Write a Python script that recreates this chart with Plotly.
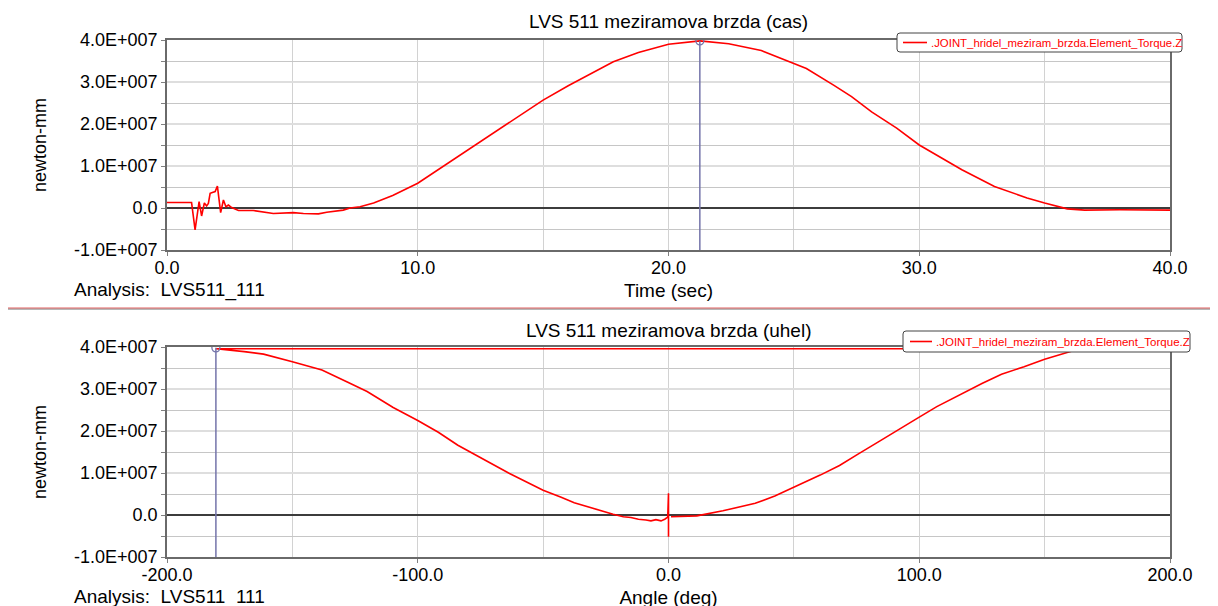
import plotly.graph_objects as go

# ---------------- data (torque values in units of 1E+007 newton-mm) ----------------
time_sec = [0, 0.98, 1.12, 1.28, 1.38, 1.49, 1.58, 1.65, 1.72, 1.82, 1.92, 2.01, 2.14, 2.25,
            2.35, 2.45, 2.58, 2.85, 3.44, 4.24, 5.04, 5.44, 6.04, 6.37, 7.03, 7.3, 7.7, 8.24,
            9.0, 10.0, 10.8, 11.6, 12.4, 13.4, 14.2, 15.0, 16.0, 16.8, 17.8, 18.8, 20.0,
            21.25, 22.4, 23.7, 25.0, 25.5, 26.6, 27.3, 28.1, 29.1, 30.0, 30.7, 31.7, 33.0,
            34.3, 35.0, 35.9, 36.6, 38.0, 40.0]
torque_time_e7 = [0.13, 0.13, -0.52, 0.15, -0.19, 0.12, 0.05, 0.11, 0.35, 0.37, 0.39, 0.52,
                  -0.11, 0.19, 0.03, 0.07, 0.01, -0.06, -0.06, -0.13, -0.11, -0.13, -0.14,
                  -0.10, -0.05, 0.0, 0.03, 0.12, 0.30, 0.59, 0.91, 1.22, 1.54, 1.94, 2.25,
                  2.57, 2.91, 3.16, 3.48, 3.70, 3.90, 3.98, 3.91, 3.75, 3.44, 3.32, 2.92,
                  2.65, 2.29, 1.90, 1.50, 1.26, 0.91, 0.51, 0.24, 0.12, -0.02, -0.05, -0.04,
                  -0.05]

angle_deg = [0.0, 0.0, 0.0, 0.0, -0.3, -1.5, -3.0, -5.0, -7.0, -9.0, -12.0, -15.0, -18.0,
             -22.1, -29.9, -37.6, -42.8, -50.0, -63.4, -78.9, -84.0, -91.8, -100.0, -109.8,
             -120.2, -127.9, -138.2, -150.0, -161.5, -169.2, -180.5, 180.0, 170.0, 161.3,
             150.0, 141.8, 132.8, 125.0, 118.6, 107.0, 100.0, 91.4, 83.7, 75.9, 68.2, 60.5,
             50.0, 42.4, 34.6, 21.7, 11.3, 4.0, 1.0]
torque_angle_e7 = [0.13, -0.52, 0.52, 0.05, -0.05, -0.10, -0.14, -0.11, -0.14, -0.12, -0.10,
                   -0.06, -0.04, 0.02, 0.16, 0.29, 0.42, 0.59, 0.99, 1.50, 1.66, 1.97, 2.25,
                   2.56, 2.94, 3.16, 3.45, 3.65, 3.83, 3.89, 3.96, 3.96, 3.95, 3.91, 3.71,
                   3.53, 3.35, 3.13, 2.94, 2.58, 2.33, 2.01, 1.74, 1.46, 1.18, 0.95, 0.67,
                   0.45, 0.28, 0.10, -0.02, -0.04, -0.04]

cursor_time = 21.25
cursor_angle = -180.5
cursor_torque_e7 = 3.98

y_tickvals_e7 = [-1, 0, 1, 2, 3, 4]
y_ticktext = ["-1.0E+007", "0.0", "1.0E+007", "2.0E+007", "3.0E+007", "4.0E+007"]
y_minor_e7 = [-0.5, 0.5, 1.5, 2.5, 3.5]
time_tickvals = [0, 10, 20, 30, 40]
time_ticktext = ["0.0", "10.0", "20.0", "30.0", "40.0"]
time_minor = [5, 15, 25, 35]
angle_tickvals = [-200, -100, 0, 100, 200]
angle_ticktext = ["-200.0", "-100.0", "0.0", "100.0", "200.0"]
angle_minor = [-150, -50, 50, 150]

series_name = ".JOINT_hridel_meziram_brzda.Element_Torque.Z"
title_top = "LVS 511 meziramova brzda (cas)"
title_bottom = "LVS 511 meziramova brzda (uhel)"
analysis_text = "Analysis:\u00a0 LVS511_111"

E7 = 1e7
torque_time = [v * E7 for v in torque_time_e7]
torque_angle = [v * E7 for v in torque_angle_e7]
y_tickvals = [v * E7 for v in y_tickvals_e7]
y_minor = [v * E7 for v in y_minor_e7]
cursor_torque = cursor_torque_e7 * E7

# ---------------- layout helpers ----------------
W, H = 1218, 606
OFF = 8  # the page body adds an 8 px margin around the figure
FONT = "Liberation Sans, Arial, sans-serif"


def fx(p):
    return (p - OFF) / W


def fy(p):
    return 1 - (p - OFF) / H


RED = "#ff0000"
CURSOR = "#7474aa"
TICK_SIZE = 18
TEXT_SIZE = 19

fig = go.Figure()

fig.add_trace(go.Scatter(x=time_sec, y=torque_time, mode="lines", name=series_name,
                         line=dict(color=RED, width=1.6), xaxis="x", yaxis="y"))
fig.add_trace(go.Scatter(x=[cursor_time, cursor_time], y=[-1 * E7, cursor_torque], mode="lines",
                         line=dict(color=CURSOR, width=1.5), xaxis="x", yaxis="y",
                         hoverinfo="skip"))
fig.add_trace(go.Scatter(x=[cursor_time], y=[cursor_torque], mode="markers",
                         marker=dict(symbol="circle-open", size=8, color=CURSOR,
                                     line=dict(width=1.3)), xaxis="x", yaxis="y"))

fig.add_trace(go.Scatter(x=angle_deg, y=torque_angle, mode="lines", name=series_name,
                         line=dict(color=RED, width=1.6), xaxis="x2", yaxis="y2"))
fig.add_trace(go.Scatter(x=[cursor_angle, cursor_angle], y=[-1 * E7, cursor_torque], mode="lines",
                         line=dict(color=CURSOR, width=1.5), xaxis="x2", yaxis="y2",
                         hoverinfo="skip"))
fig.add_trace(go.Scatter(x=[cursor_angle], y=[cursor_torque], mode="markers",
                         marker=dict(symbol="circle-open", size=8, color=CURSOR,
                                     line=dict(width=1.3)), xaxis="x2", yaxis="y2"))

common_x = dict(showline=True, linecolor="#6a6a6a", linewidth=1.5, mirror=True,
                ticks="outside", ticklen=4, tickcolor="#808080", tickwidth=1,
                showgrid=True, gridcolor="#d2d2d2", gridwidth=1, zeroline=False,
                tickfont=dict(size=TICK_SIZE, color="#000000", family=FONT),
                ticklabelstandoff=-3,
                tickmode="array", automargin=False)
common_y = dict(showline=True, linecolor="#6a6a6a", linewidth=1.5, mirror=True,
                ticks="outside", ticklen=4, tickcolor="#808080", tickwidth=1,
                showgrid=True, gridcolor="#dedede", gridwidth=2,
                zeroline=True, zerolinecolor="#3c3c3c", zerolinewidth=1.5,
                tickfont=dict(size=TICK_SIZE, color="#000000", family=FONT),
                tickmode="array", range=[-1 * E7, 4 * E7], tickvals=y_tickvals,
                ticktext=y_ticktext, automargin=False,
                minor=dict(tickmode="array", tickvals=y_minor, ticks="outside", ticklen=4,
                           tickcolor="#808080", showgrid=True, gridcolor="#c6c6c6",
                           gridwidth=1),
                title=dict(text="newton-mm", font=dict(size=TICK_SIZE, family=FONT, color="#000"),
                           standoff=23))


def rounded_box(x0, y0, x1, y1, r=3):
    X0, X1 = fx(x0), fx(x1)
    Y0, Y1 = fy(y0), fy(y1)
    rx, ry = r / W, r / H
    return (f"M {X0 + rx},{Y0} L {X1 - rx},{Y0} Q {X1},{Y0} {X1},{Y0 - ry} "
            f"L {X1},{Y1 + ry} Q {X1},{Y1} {X1 - rx},{Y1} L {X0 + rx},{Y1} "
            f"Q {X0},{Y1} {X0},{Y1 + ry} L {X0},{Y0 - ry} Q {X0},{Y0} {X0 + rx},{Y0} Z")


legend_boxes = [  # (box x0, y0, x1, y1, sample x0, x1, text x, font size)
    (897, 33, 1182, 52, 903, 927, 929, 11.4),
    (903, 331, 1190, 352, 910, 932, 934, 11.5),
]

shapes = [
    dict(type="line", xref="paper", yref="paper", x0=fx(8), x1=1.02,
         y0=fy(309), y1=fy(309), line=dict(color="#707070", width=1)),
    dict(type="line", xref="paper", yref="paper", x0=fx(8), x1=1.02,
         y0=fy(308), y1=fy(308), line=dict(color="#e06060", width=1)),
]
annotations = [
    dict(text=title_top, x=fx(669), y=fy(22), xref="paper", yref="paper",
         showarrow=False, xanchor="center", yanchor="middle",
         font=dict(size=TEXT_SIZE, family=FONT, color="#000")),
    dict(text=title_bottom, x=fx(669), y=fy(330), xref="paper", yref="paper",
         showarrow=False, xanchor="center", yanchor="middle",
         font=dict(size=TEXT_SIZE, family=FONT, color="#000")),
    dict(text=analysis_text, x=fx(72), y=fy(290), xref="paper", yref="paper",
         showarrow=False, xanchor="left", yanchor="middle",
         font=dict(size=TEXT_SIZE, family=FONT, color="#000")),
    dict(text=analysis_text, x=fx(72), y=fy(597), xref="paper", yref="paper",
         showarrow=False, xanchor="left", yanchor="middle",
         font=dict(size=TEXT_SIZE, family=FONT, color="#000")),
]
for bx0, by0, bx1, by1, sx0, sx1, tx, fs in legend_boxes:
    cy = (by0 + by1) / 2
    shapes.append(dict(type="path", xref="paper", yref="paper",
                       path=rounded_box(bx0, by0, bx1, by1), fillcolor="white",
                       line=dict(color="#444444", width=1), layer="above"))
    shapes.append(dict(type="line", xref="paper", yref="paper", x0=fx(sx0), x1=fx(sx1),
                       y0=fy(cy), y1=fy(cy), line=dict(color=RED, width=1.6),
                       layer="above"))
    annotations.append(dict(text=series_name, x=fx(tx), y=fy(cy), xref="paper",
                            yref="paper", showarrow=False, xanchor="left",
                            yanchor="middle", font=dict(size=fs, family=FONT, color=RED)))

fig.update_layout(
    width=W, height=H,
    margin=dict(l=0, r=0, t=0, b=0, autoexpand=False),
    paper_bgcolor="white", plot_bgcolor="white",
    font=dict(family=FONT, color="#000000"),
    showlegend=False,
    xaxis=dict(**common_x, domain=[fx(167), fx(1170)], range=[0, 40], anchor="y",
               tickvals=time_tickvals, ticktext=time_ticktext,
               minor=dict(tickmode="array", tickvals=time_minor, showgrid=True,
                          gridcolor="#d2d2d2", gridwidth=1),
               title=dict(text="Time (sec)", font=dict(size=TEXT_SIZE, family=FONT, color="#000"),
                          standoff=6)),
    yaxis=dict(**common_y, domain=[fy(250), fy(40)], anchor="x"),
    xaxis2=dict(**common_x, domain=[fx(167), fx(1170)], range=[-200, 200], anchor="y2",
                tickvals=angle_tickvals, ticktext=angle_ticktext,
                minor=dict(tickmode="array", tickvals=angle_minor, showgrid=True,
                           gridcolor="#d2d2d2", gridwidth=1),
                title=dict(text="Angle (deg)", font=dict(size=TEXT_SIZE, family=FONT, color="#000"),
                           standoff=6)),
    yaxis2=dict(**common_y, domain=[fy(557), fy(347)], anchor="x2"),
    shapes=shapes,
    annotations=annotations,
)

fig.write_html("out.html")
